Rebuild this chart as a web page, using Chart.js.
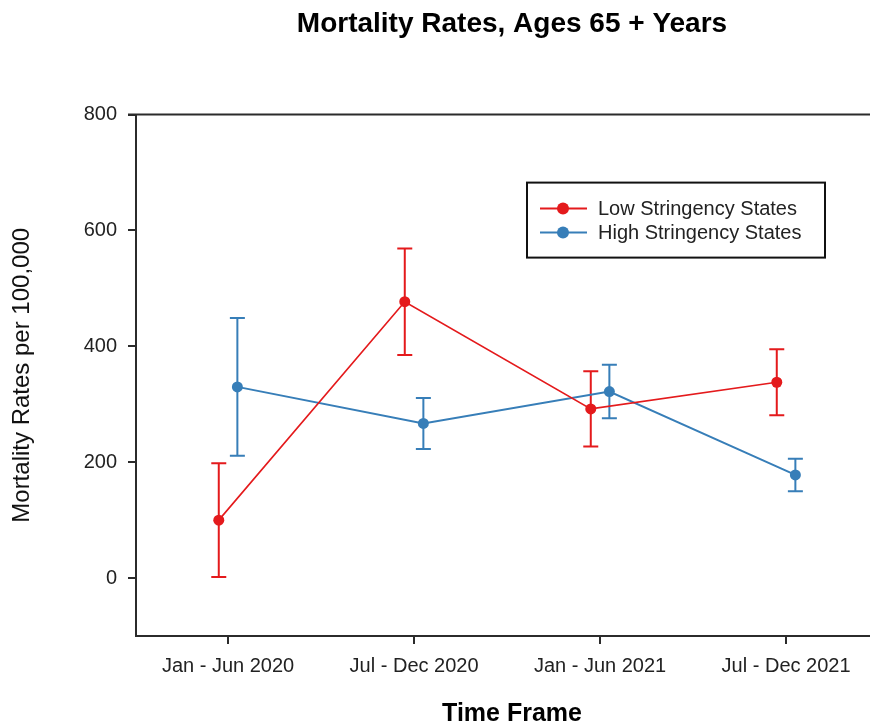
<!DOCTYPE html>
<html>
<head>
<meta charset="utf-8">
<script src="https://cdn.jsdelivr.net/npm/chart.js@4/dist/chart.umd.min.js"></script>
<style>
  html, body { margin: 0; padding: 0; background: #fff; overflow: hidden; }
  #wrap { width: 900px; height: 728px; }
</style>
</head>
<body>
<div id="wrap"><canvas id="chart" width="900" height="728"></canvas></div>
<script>
// Half-year periods on the x axis
const periods = ['Jan - Jun 2020', 'Jul - Dec 2020', 'Jan - Jun 2021', 'Jul - Dec 2021'];

// Mortality rates per 100,000 (ages 65+) with their error margins
const lowStringencyRates = [100, 477, 292, 338];
const lowStringencyErrors = [98, 92, 65, 57];
const highStringencyRates = [330, 267, 322, 178];
const highStringencyErrors = [119, 44, 46, 28];

// Y axis tick values
const yTickValues = [0, 200, 400, 600, 800];

const RED = '#E41A1C';
const BLUE = '#377EB8';
const AXIS = '#2b2b2b';
const FONT = "'Liberation Sans', Arial, sans-serif";

// Each series is nudged sideways so the error bars don't overlap
const dodge = 0.05;
function toPoints(values, shift) {
  return values.map((v, i) => ({ x: i + shift, y: v }));
}

// Vertical error bars with caps, drawn through the chart's own scales
const errorBars = {
  id: 'errorBars',
  beforeDatasetsDraw(chart) {
    const { ctx, scales: { x, y } } = chart;
    chart.data.datasets.forEach((ds) => {
      const errs = ds.errors;
      if (!errs) return;
      ctx.save();
      ctx.strokeStyle = ds.borderColor;
      ctx.lineWidth = 2;
      ds.data.forEach((p, i) => {
        const px = x.getPixelForValue(p.x);
        const top = y.getPixelForValue(p.y + errs[i]);
        const bot = y.getPixelForValue(p.y - errs[i]);
        const cap = 7.5;
        ctx.beginPath();
        ctx.moveTo(px, top); ctx.lineTo(px, bot);
        ctx.moveTo(px - cap, top); ctx.lineTo(px + cap, top);
        ctx.moveTo(px - cap, bot); ctx.lineTo(px + cap, bot);
        ctx.stroke();
      });
      ctx.restore();
    });
  }
};

// Top frame line of the plot area
const frameTop = {
  id: 'frameTop',
  afterDraw(chart) {
    const { ctx, chartArea: a } = chart;
    ctx.save();
    ctx.strokeStyle = AXIS;
    ctx.lineWidth = 2;
    ctx.beginPath();
    ctx.moveTo(a.left - 8, a.top);
    ctx.lineTo(a.right, a.top);
    ctx.stroke();
    ctx.restore();
  }
};

// Boxed legend inside the plot area
const boxedLegend = {
  id: 'boxedLegend',
  afterDraw(chart) {
    const { ctx, chartArea: a } = chart;
    const left = a.left + 391, top = a.top + 68, w = 298, h = 75;
    ctx.save();
    ctx.fillStyle = '#fff';
    ctx.fillRect(left, top, w, h);
    ctx.strokeStyle = '#111';
    ctx.lineWidth = 2;
    ctx.strokeRect(left, top, w, h);
    chart.data.datasets.forEach((ds, i) => {
      const cy = top + 26 + i * 24;
      ctx.strokeStyle = ds.borderColor;
      ctx.lineWidth = 2;
      ctx.beginPath();
      ctx.moveTo(left + 13, cy);
      ctx.lineTo(left + 60, cy);
      ctx.stroke();
      ctx.fillStyle = ds.borderColor;
      ctx.beginPath();
      ctx.arc(left + 36, cy, 6, 0, Math.PI * 2);
      ctx.fill();
      ctx.fillStyle = '#222';
      ctx.font = '20px ' + FONT;
      ctx.textBaseline = 'middle';
      ctx.textAlign = 'left';
      ctx.fillText(ds.label, left + 71, cy + 1);
    });
    ctx.restore();
  }
};

new Chart(document.getElementById('chart'), {
  type: 'line',
  data: {
    datasets: [
      {
        label: 'Low Stringency States',
        data: toPoints(lowStringencyRates, -dodge),
        errors: lowStringencyErrors,
        borderColor: RED,
        backgroundColor: RED,
        borderWidth: 1.6,
        pointRadius: 5.5,
        pointBorderWidth: 0,
        tension: 0
      },
      {
        label: 'High Stringency States',
        data: toPoints(highStringencyRates, dodge),
        errors: highStringencyErrors,
        borderColor: BLUE,
        backgroundColor: BLUE,
        borderWidth: 2,
        pointRadius: 5.5,
        pointBorderWidth: 0,
        tension: 0
      }
    ]
  },
  options: {
    responsive: false,
    animation: false,
    devicePixelRatio: 1,
    layout: { padding: { left: 0, right: 12, top: 0, bottom: 0 } },
    plugins: {
      legend: { display: false },
      tooltip: { enabled: false },
      title: {
        display: true,
        fullSize: false,
        text: 'Mortality Rates, Ages 65 + Years',
        color: '#000',
        font: { family: FONT, size: 28, weight: 'bold', lineHeight: 1.2 },
        padding: { top: 7, bottom: 74 }
      }
    },
    scales: {
      x: {
        type: 'linear',
        min: -0.495,
        max: 3.548,
        afterBuildTicks: (s) => { s.ticks = periods.map((_, i) => ({ value: i })); },
        afterFit: (s) => { s.height = 92; },
        ticks: {
          callback: (v) => periods[v] ?? '',
          color: '#222',
          font: { family: FONT, size: 20 },
          padding: 10,
          maxRotation: 0,
          autoSkip: false
        },
        grid: { drawOnChartArea: false, drawTicks: true, tickLength: 8, color: AXIS, lineWidth: 2 },
        border: { display: true, color: AXIS, width: 2 },
        title: {
          display: true,
          text: 'Time Frame',
          color: '#000',
          font: { family: FONT, size: 25, weight: 'bold', lineHeight: 1.1 },
          padding: { top: 0, bottom: 0 }
        }
      },
      y: {
        min: -100,
        max: 800,
        afterBuildTicks: (s) => { s.ticks = yTickValues.map((v) => ({ value: v })); },
        afterFit: (s) => { s.width = 136; },
        ticks: {
          color: '#222',
          font: { family: FONT, size: 20 },
          padding: 11
        },
        grid: { drawOnChartArea: false, drawTicks: true, tickLength: 8, color: AXIS, lineWidth: 2 },
        border: { display: true, color: AXIS, width: 2 },
        title: {
          display: true,
          text: 'Mortality Rates per 100,000',
          color: '#111',
          font: { family: FONT, size: 24, lineHeight: 1.2 },
          padding: { top: 8, bottom: 0 }
        }
      }
    }
  },
  plugins: [errorBars, frameTop, boxedLegend]
});
</script>
</body>
</html>
